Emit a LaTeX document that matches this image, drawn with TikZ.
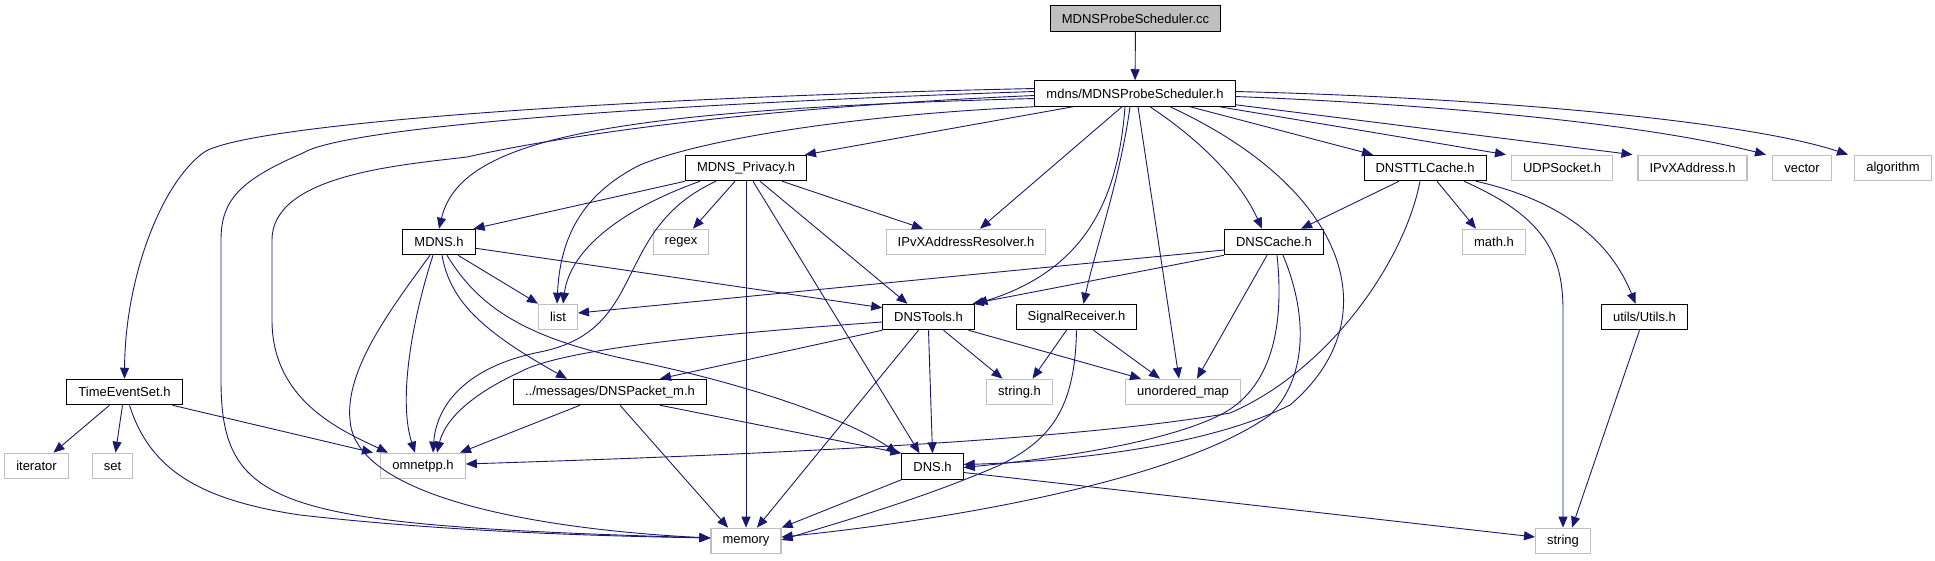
\documentclass[tikz,border=0pt]{standalone}
\usepackage{fontspec}
\setmainfont{Liberation Sans}
\usetikzlibrary{arrows.meta}
\definecolor{edgeblue}{HTML}{191970}
\definecolor{extgray}{HTML}{BFBFBF}
\begin{document}
\begin{tikzpicture}[x=1pt,y=-1pt,>={Triangle[length=11pt,width=9pt]},line width=0.9pt,
  font=\fontsize{13}{15}\selectfont,
  file/.style={draw=black,line width=1pt,minimum height=25.5pt,inner xsep=11.5pt,inner ysep=0pt},
  sys/.style={draw=extgray,line width=1.2pt,minimum height=25.5pt,inner xsep=11.5pt,inner ysep=0pt},
  inc/.style={->,draw=edgeblue}]
  \useasboundingbox (0,0) rectangle (1935,560);

  % 文件节点
  \node[file,fill=extgray] (root) at (1135.5,18.5) {MDNSProbeScheduler.cc};
  \node[file] (P) at (1135,93.5) {mdns/MDNSProbeScheduler.h};
  \node[file] (priv) at (746,168) {MDNS\_Privacy.h};
  \node[file] (ttl) at (1425,168) {DNSTTLCache.h};
  \node[sys] (udp) at (1562,168) {UDPSocket.h};
  \node[sys] (ipvx) at (1692.5,168) {IPvXAddress.h};
  \node[sys] (vector) at (1802,168) {vector};
  \node[sys] (algorithm) at (1893,168) {algorithm};
  \node[file] (mdns) at (439,242) {MDNS.h};
  \node[sys] (regex) at (681,242) {regex};
  \node[sys] (resolver) at (966,242) {IPvXAddressResolver.h};
  \node[file] (cache) at (1274,242) {DNSCache.h};
  \node[sys] (math) at (1494,242) {math.h};
  \node[sys] (list) at (558,317) {list};
  \node[file] (tools) at (928.5,317) {DNSTools.h};
  \node[file] (signal) at (1076.5,317) {SignalReceiver.h};
  \node[file] (utils) at (1644.5,317) {utils/Utils.h};
  \node[file] (tes) at (124.5,392) {TimeEventSet.h};
  \node[file] (packet) at (610,392) {../messages/DNSPacket\_m.h};
  \node[sys] (strh) at (1019.5,392) {string.h};
  \node[sys] (umap) at (1183,392) {unordered\_map};
  \node[sys] (iterator) at (36.5,466) {iterator};
  \node[sys] (set) at (112.5,466) {set};
  \node[sys] (omnetpp) at (423,466) {omnetpp.h};
  \node[file] (dns) at (932.5,466.5) {DNS.h};
  \node[sys] (memory) at (746,541) {memory};
  \node[sys] (string) at (1563,541) {string};

  \draw[inc] (root) -- (P);

  % mdns/MDNSProbeScheduler.h 左侧
  \draw[inc] ([yshift=5pt]P.west) .. controls (600,98) and (240,125) .. (203,153)
    .. controls (160,185) and (125,280) .. (tes.north);
  \draw[inc] ([yshift=2pt]P.west) .. controls (600,106) and (340,130) .. (303,153)
    .. controls (240,180) and (221,200) .. (221,240) -- (221,380)
    .. controls (221,510) and (280,525) .. ([yshift=3pt]memory.west);
  \draw[inc] ([yshift=-2pt]P.west) .. controls (700,110) and (520,145) .. (467,157)
    .. controls (400,165) and (272,175) .. (272,240) -- (272,320)
    .. controls (272,400) and (340,430) .. ([xshift=-35pt]omnetpp.north);
  \draw[inc] ([yshift=-5pt]P.west) .. controls (600,110) and (460,140) .. (mdns.north);
  \draw[inc] (P.south west) .. controls (850,115) and (700,140) .. (640,165)
    .. controls (580,195) and (560,240) .. ([xshift=-1pt]list.north);
  \draw[inc] ([xshift=-62pt]P.south) -- ([xshift=-2pt]priv.north east);
  \draw[inc] ([xshift=-13pt]P.south) -- ([xshift=14pt]resolver.north);
  \draw[inc] ([xshift=-10pt]P.south) .. controls (1118,200) and (1085,270) .. ([xshift=48pt]tools.north);
  \draw[inc] ([xshift=-5pt]P.south) .. controls (1120,180) and (1095,250) .. ([xshift=7pt]signal.north);

  % mdns/MDNSProbeScheduler.h 右侧
  \draw[inc] ([xshift=3pt]P.south) -- ([xshift=-4pt]umap.north);
  \draw[inc] ([xshift=15pt]P.south) .. controls (1200,140) and (1240,180) .. ([xshift=-12pt]cache.north);
  \draw[inc] ([xshift=35pt]P.south) .. controls (1350,190) and (1390,320) .. (1290,405)
    .. controls (1200,450) and (1050,462) .. ([yshift=2pt]dns.east);
  \draw[inc] ([xshift=55pt]P.south) -- ([xshift=-52pt]ttl.north);
  \draw[inc] ([xshift=-16pt]P.south east) -- ([xshift=-56pt]udp.north);
  \draw[inc] ([yshift=2pt]P.south east) -- ([xshift=-60pt]ipvx.north);
  \draw[inc] ([yshift=-3pt]P.east) .. controls (1450,105) and (1650,125) .. ([xshift=-36pt]vector.north);
  \draw[inc] ([yshift=2pt]P.east) .. controls (1500,98) and (1750,122) .. ([xshift=-45pt]algorithm.north);

  % MDNS_Privacy.h
  \draw[inc] (priv.south west) -- ([xshift=-2pt]mdns.north east);
  \draw[inc] ([xshift=-46pt]priv.south) .. controls (620,210) and (570,250) .. ([xshift=5pt]list.north);
  \draw[inc] ([xshift=-30pt]priv.south) .. controls (610,230) and (650,330) .. (540,352)
    .. controls (460,368) and (436,410) .. ([xshift=10pt]omnetpp.north);
  \draw[inc] ([xshift=-11pt]priv.south) -- ([xshift=12pt]regex.north);
  \draw[inc] (priv.south) -- (memory.north);
  \draw[inc] ([xshift=7pt]priv.south) -- ([xshift=-13pt]dns.north);
  \draw[inc] ([xshift=14pt]priv.south) -- ([xshift=-21pt]tools.north);
  \draw[inc] ([xshift=36pt]priv.south) -- ([xshift=-43pt]resolver.north);

  % MDNS.h
  \draw[inc] ([xshift=19pt]mdns.south) -- (list.north west);
  \draw[inc] ([yshift=7pt]mdns.south east) -- ([yshift=-4pt]tools.north west);
  \draw[inc] ([xshift=-6pt]mdns.south) .. controls (412,320) and (398,400) .. ([xshift=-8pt]omnetpp.north);
  \draw[inc] ([xshift=-9pt]mdns.south) .. controls (390,310) and (345,370) .. (350,420)
    .. controls (355,500) and (550,530) .. ([yshift=3pt]memory.west);
  \draw[inc] ([xshift=3pt]mdns.south) .. controls (450,300) and (480,330) .. ([xshift=-43pt]packet.north);
  \draw[inc] ([xshift=8pt]mdns.south) .. controls (480,310) and (530,340) .. (640,362)
    .. controls (750,385) and (850,420) .. ([xshift=-4pt]dns.north west);

  % DNSCache.h
  \draw[inc] ([yshift=-8pt]cache.west) -- ([yshift=4pt]list.east);
  \draw[inc] (cache.south west) -- ([xshift=44pt]tools.north);
  \draw[inc] ([xshift=-7pt]cache.south) -- ([xshift=14pt]umap.north);
  \draw[inc] ([xshift=3pt]cache.south) .. controls (1285,330) and (1270,390) .. (1220,415)
    .. controls (1160,445) and (1040,460) .. ([yshift=-1pt]dns.east);
  \draw[inc] ([xshift=9pt]cache.south) .. controls (1310,320) and (1305,380) .. (1270,415)
    .. controls (1180,480) and (950,520) .. ([yshift=4pt]memory.east);

  % DNSTTLCache.h
  \draw[inc] ([xshift=-26pt]ttl.south) -- ([xshift=27pt]cache.north);
  \draw[inc] ([xshift=12pt]ttl.south) -- ([xshift=-18pt]math.north);
  \draw[inc] ([xshift=39pt]ttl.south) .. controls (1540,215) and (1563,250) .. (1563,310) -- (string.north);
  \draw[inc] ([xshift=51pt]ttl.south) .. controls (1560,200) and (1610,240) .. ([xshift=-9pt]utils.north);
  \draw[inc] ([xshift=-5pt]ttl.south) .. controls (1405,260) and (1330,370) .. (1230,413)
    .. controls (1050,445) and (650,458) .. ([yshift=2pt]omnetpp.east);

  % SignalReceiver.h
  \draw[inc] ([xshift=-10pt]signal.south) -- ([xshift=13pt]strh.north);
  \draw[inc] ([xshift=17pt]signal.south) -- ([xshift=-23pt]umap.north);
  \draw[inc] (signal.south) .. controls (1075,410) and (1050,440) .. (1000,465)
    .. controls (920,500) and (830,525) .. ([yshift=1pt]memory.east);

  % DNSTools.h
  \draw[inc] ([yshift=-5pt]tools.west) .. controls (700,335) and (560,350) .. (520,372)
    .. controls (470,395) and (445,420) .. ([xshift=14pt]omnetpp.north);
  \draw[inc] (tools.south west) -- ([xshift=50pt]packet.north);
  \draw[inc] ([xshift=-10pt]tools.south) -- ([xshift=11pt]memory.north);
  \draw[inc] (tools.south) -- (dns.north);
  \draw[inc] ([xshift=15pt]tools.south) -- ([xshift=-17pt]strh.north);
  \draw[inc] ([xshift=40pt]tools.south) -- ([xshift=-42pt]umap.north);

  % DNSPacket_m.h, DNS.h, Utils.h
  \draw[inc] ([xshift=-30pt]packet.south) -- ([xshift=37pt]omnetpp.north);
  \draw[inc] ([xshift=10pt]packet.south) -- ([xshift=-18pt]memory.north);
  \draw[inc] ([xshift=50pt]packet.south) -- (dns.north west);
  \draw[inc] (dns.south west) -- (memory.north east);
  \draw[inc] ([yshift=-6pt]dns.east) -- ([yshift=4pt]string.west);
  \draw[inc] ([xshift=-5pt]utils.south) -- ([xshift=9pt]string.north);

  % TimeEventSet.h
  \draw[inc] ([xshift=-15pt]tes.south) -- ([xshift=17pt]iterator.north);
  \draw[inc] ([xshift=-2pt]tes.south) -- ([xshift=3pt]set.north);
  \draw[inc] ([xshift=48pt]tes.south) -- ([xshift=-50pt]omnetpp.north);
  \draw[inc] ([xshift=5pt]tes.south) .. controls (150,470) and (200,500) .. (300,515)
    .. controls (450,532) and (600,536) .. ([yshift=3pt]memory.west);
\end{tikzpicture}
\end{document}
